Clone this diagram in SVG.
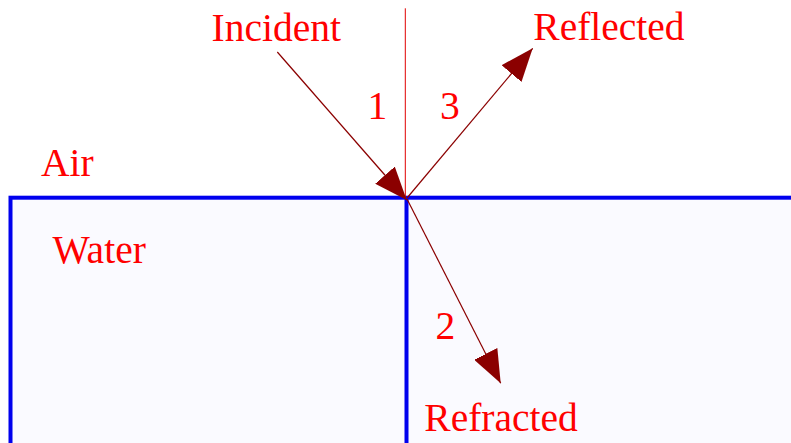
<svg xmlns="http://www.w3.org/2000/svg" width="791" height="443" viewBox="0 0 791 443">
  <style>
    .lbl { font-family: "Liberation Serif", "Times New Roman", serif; font-size: 39.5px; fill: #ff0000; }
    .ray { stroke: #8b0000; stroke-width: 1.2; fill: none; marker-end: url(#head); }
    .border { stroke: #0000ee; stroke-width: 4; }
  </style>
  <defs>
    <marker id="head" markerUnits="userSpaceOnUse" viewBox="0 0 33 26" refX="33" refY="13" markerWidth="33" markerHeight="26" orient="auto">
      <path d="M0,0 L33,13 L0,26 Z" fill="#8b0000"/>
    </marker>
  </defs>
  <rect x="0" y="0" width="791" height="443" fill="#ffffff"/>
  <g id="water">
    <rect class="border" x="10.5" y="197.7" width="800" height="260" fill="#fafaff"/>
    <line class="border" x1="406.5" y1="197.7" x2="406.5" y2="443"/>
  </g>
  <g id="normal">
    <line x1="405.3" y1="8.3" x2="405.3" y2="198" stroke="#e00000" stroke-width="1"/>
  </g>
  <g id="connectors">
    <line class="ray" x1="277.3" y1="52" x2="406.7" y2="200"/>
    <line class="ray" x1="407" y1="198" x2="532.7" y2="48.3"/>
    <line class="ray" x1="407" y1="199" x2="500.7" y2="383.3"/>
  </g>
  <g id="labels">
    <text class="lbl" x="211.6" y="40.7">Incident</text>
    <text class="lbl" x="533.3" y="40">Reflected</text>
    <text class="lbl" x="424.3" y="430.7">Refracted</text>
    <text class="lbl" x="41" y="175.7">Air</text>
    <text class="lbl" x="52.5" y="263.3">Water</text>
    <text class="lbl" x="367.5" y="119">1</text>
    <text class="lbl" x="440" y="119">3</text>
    <text class="lbl" x="435.5" y="339">2</text>
  </g>
</svg>
